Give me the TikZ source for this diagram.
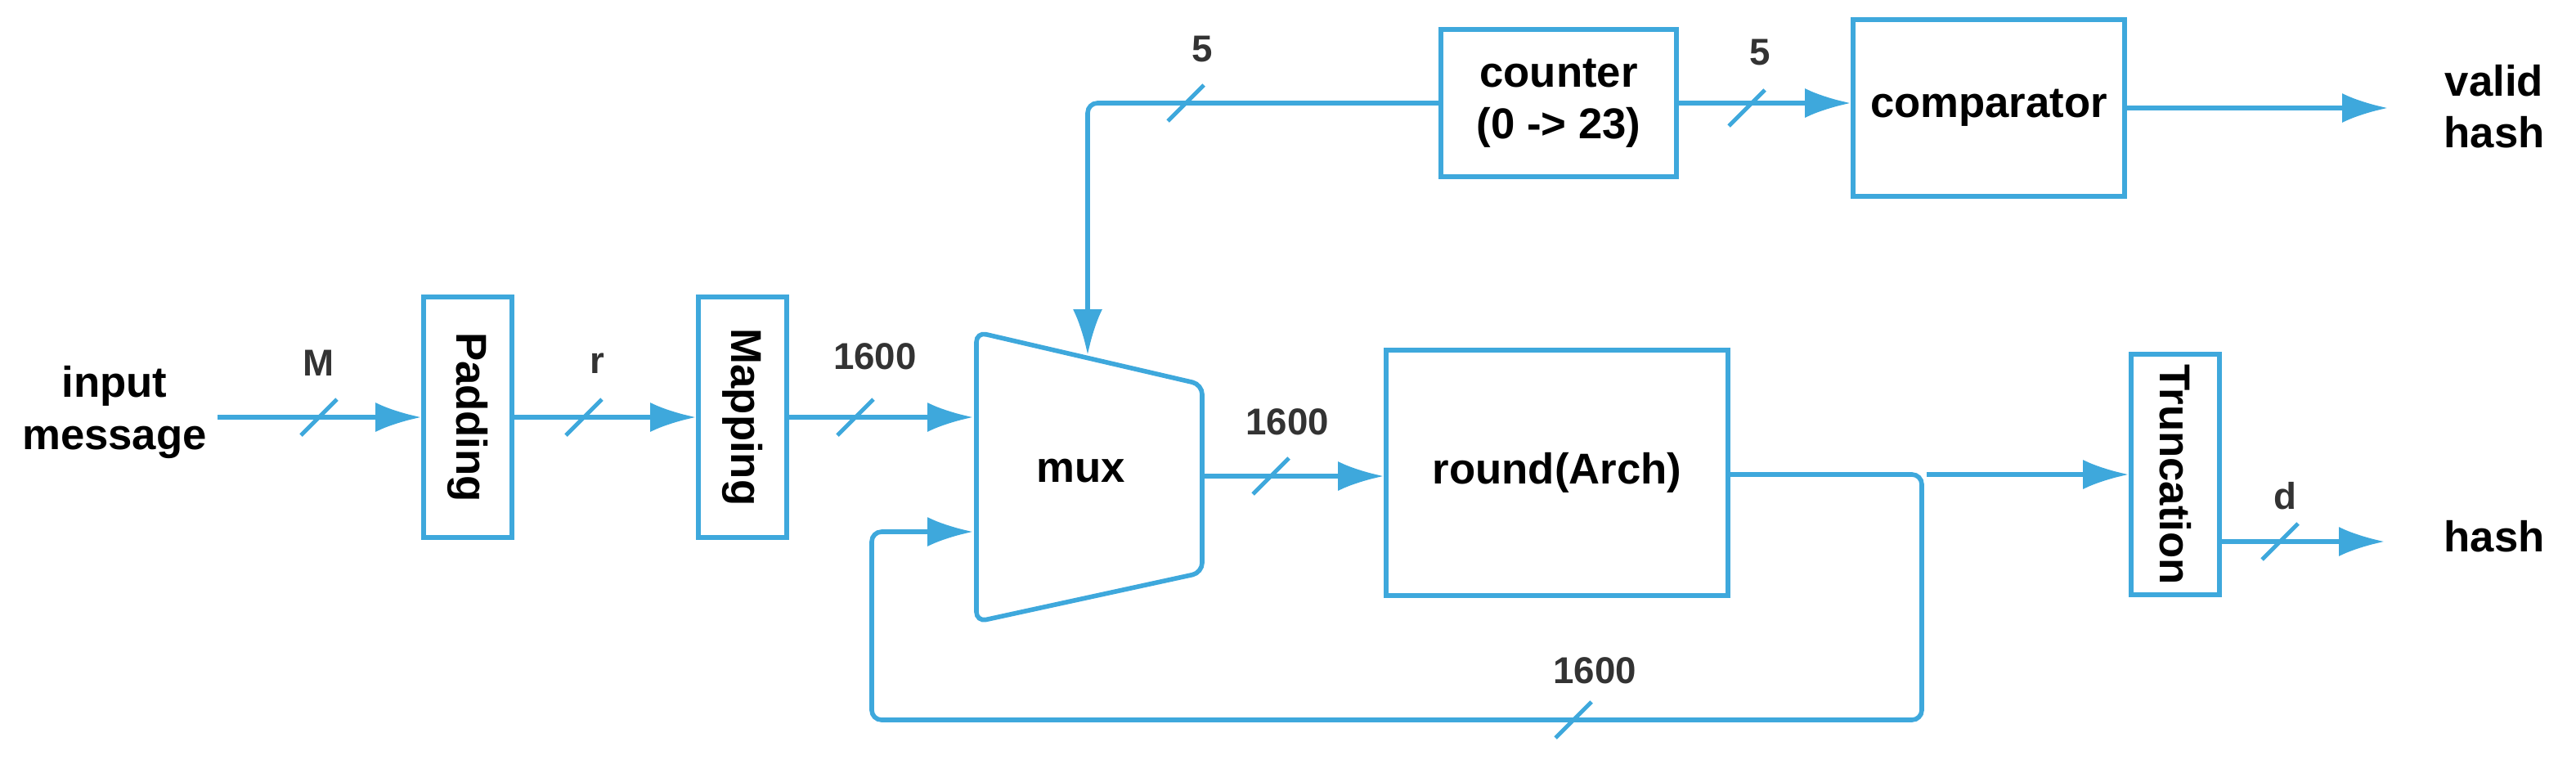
\documentclass[tikz,border=0pt]{standalone}
\usepackage{fontspec}
\setmainfont{Liberation Sans}
\usetikzlibrary{arrows.meta,positioning}
\definecolor{wire}{HTML}{3EA8DC}
\definecolor{lbl}{HTML}{333333}
\tikzset{
  blk/.style={draw=wire, line width=1.6pt, inner sep=0pt, font=\bfseries\fontsize{15}{18}\selectfont, align=center},
  io/.style={font=\bfseries\fontsize{15}{18}\selectfont, align=center},
  bus/.style={draw=wire, line width=1.6pt, -{Latex[length=0.56cm,width=0.36cm]}},
  wr/.style={draw=wire, line width=1.6pt, rounded corners=0.12cm},
  num/.style={text=lbl, font=\bfseries\fontsize{13}{15}\selectfont},
}
\newcommand{\busmark}[1]{\draw[wire, line width=1.4pt] ($(#1)+(-11,11)$) -- ($(#1)+(11,-11)$);}
\usetikzlibrary{calc}
\begin{document}
\begin{tikzpicture}[x=0.02cm,y=-0.02cm]
  \useasboundingbox (0,0) rectangle (1575,464);
  %% blocks
  \node[blk, minimum width=54*0.02cm, minimum height=147*0.02cm] (pad) at (286,255) {\rotatebox{-90}{Padding}};
  \node[blk, minimum width=54*0.02cm, minimum height=147*0.02cm] (map) at (454,255) {\rotatebox{-90}{Mapping}};
  \node[blk, minimum width=209*0.02cm, minimum height=150*0.02cm] (rnd) at (952,289) {round(Arch)};
  \node[blk, minimum width=54*0.02cm, minimum height=147*0.02cm] (trn) at (1330,290) {\rotatebox{-90}{Truncation}};
  \node[blk, minimum width=144*0.02cm, minimum height=90*0.02cm] (cnt) at (953,63) {counter\\(0 -> 23)};
  \node[blk, minimum width=166*0.02cm, minimum height=108*0.02cm] (cmp) at (1216,66) {comparator};
  %% mux
  \draw[wr] (597,203) -- (735,235) -- (735,350) -- (597,380) -- cycle;
  \node[io] (mux) at (661,288) {mux};
  \coordinate (muxin) at (595,255);
  \coordinate (muxfb) at (595,325);
  \coordinate (muxtop) at (665,217);
  \coordinate (muxout) at (735,291);
  %% texts
  \node[io] (in) at (70,252) {input\\message};
  \node[io] (vh) at (1525,65) {valid\\hash};
  \node[io] (hs) at (1525,328) {hash};
  %% wires
  \draw[bus] (133,255) -- (pad.west |- 0,255);
  \draw[bus] (pad.east |- 0,255) -- (map.west |- 0,255);
  \draw[bus] (map.east |- 0,255) -- (muxin);
  \draw[bus] (muxout) -- (rnd.west |- muxout);
  \coordinate (split) at (1175,290);
  \draw[wr] (rnd.east |- split) -- (split) -- (1175,440) -- (533,440) -- (533,325) -- (560,325);
  \draw[bus] (560,325) -- (muxfb);
  \draw[bus] (1178,290) -- (trn.west |- 0,290);
  \draw[bus] (trn.east |- 0,331) -- (1458,331);
  \draw[bus, rounded corners=0.12cm] (cnt.west) -- (665,63) -- (muxtop);
  \draw[bus] (cnt.east) -- (cmp.west |- cnt.east);
  \draw[bus] (cmp.east) -- (1460,66);
  %% bus widths
  \busmark{195,255} \node[num] (lm) at (195,222) {M};
  \busmark{357,255} \node[num] (lr) at (365,222) {r};
  \busmark{523,255} \node[num] (l1) at (535,218) {1600};
  \busmark{777,291} \node[num] (l2) at (787,258) {1600};
  \busmark{962,440} \node[num] (l3) at (975,410) {1600};
  \busmark{1394,331} \node[num] (ld) at (1397,303) {d};
  \busmark{725,63} \node[num] (l5a) at (735,30) {5};
  \busmark{1068,66} \node[num] (l5b) at (1076,32) {5};
\end{tikzpicture}
\end{document}
